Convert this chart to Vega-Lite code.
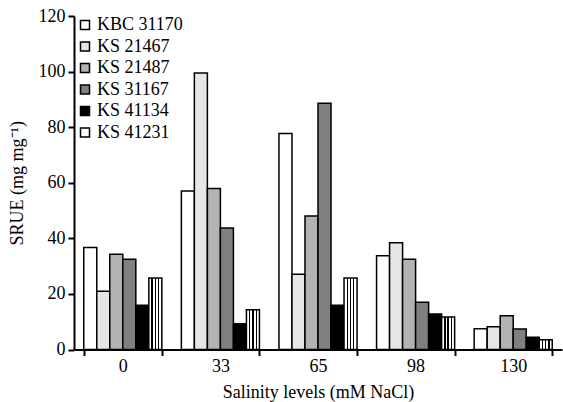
{
  "$schema": "https://vega.github.io/schema/vega-lite/v6.json",
  "width": 488,
  "height": 333.5,
  "autosize": {"type": "none"},
  "padding": {"left": 74, "top": 16, "right": 1, "bottom": 52.5},
  "config": {
    "font": "Liberation Serif",
    "view": {"stroke": null},
    "axis": {"domainColor": "black", "domainWidth": 2, "tickColor": "black", "tickWidth": 2, "tickSize": 6, "labelFontSize": 18, "titleFontSize": 18, "labelColor": "black", "titleColor": "black", "titleFontWeight": "normal", "grid": false, "labelFont": "Liberation Serif", "titleFont": "Liberation Serif"},
    "legend": {"labelFont": "Liberation Serif"}
  },
  "data": {
    "values": [
      {"salinity": "0", "series": "KBC 31170", "srue": 36.7},
      {"salinity": "0", "series": "KS 21467", "srue": 21.0},
      {"salinity": "0", "series": "KS 21487", "srue": 34.3},
      {"salinity": "0", "series": "KS 31167", "srue": 32.5},
      {"salinity": "0", "series": "KS 41134", "srue": 15.9},
      {"salinity": "0", "series": "KS 41231", "srue": 25.7},
      {"salinity": "33", "series": "KBC 31170", "srue": 57.0},
      {"salinity": "33", "series": "KS 21467", "srue": 99.5},
      {"salinity": "33", "series": "KS 21487", "srue": 57.9},
      {"salinity": "33", "series": "KS 31167", "srue": 43.7},
      {"salinity": "33", "series": "KS 41134", "srue": 9.3},
      {"salinity": "33", "series": "KS 41231", "srue": 14.3},
      {"salinity": "65", "series": "KBC 31170", "srue": 77.7},
      {"salinity": "65", "series": "KS 21467", "srue": 27.1},
      {"salinity": "65", "series": "KS 21487", "srue": 48.0},
      {"salinity": "65", "series": "KS 31167", "srue": 88.6},
      {"salinity": "65", "series": "KS 41134", "srue": 15.9},
      {"salinity": "65", "series": "KS 41231", "srue": 25.7},
      {"salinity": "98", "series": "KBC 31170", "srue": 33.7},
      {"salinity": "98", "series": "KS 21467", "srue": 38.4},
      {"salinity": "98", "series": "KS 21487", "srue": 32.5},
      {"salinity": "98", "series": "KS 31167", "srue": 17.0},
      {"salinity": "98", "series": "KS 41134", "srue": 12.8},
      {"salinity": "98", "series": "KS 41231", "srue": 11.7},
      {"salinity": "130", "series": "KBC 31170", "srue": 7.5},
      {"salinity": "130", "series": "KS 21467", "srue": 8.2},
      {"salinity": "130", "series": "KS 21487", "srue": 12.1},
      {"salinity": "130", "series": "KS 31167", "srue": 7.4},
      {"salinity": "130", "series": "KS 41134", "srue": 4.4},
      {"salinity": "130", "series": "KS 41231", "srue": 3.5}
    ]
  },
  "mark": {"type": "bar", "stroke": "black", "strokeWidth": 1.5},
  "encoding": {
    "x": {
      "field": "salinity", "type": "ordinal", "sort": ["0", "33", "65", "98", "130"],
      "scale": {"paddingInner": 0.2, "paddingOuter": 0.1},
      "axis": {"title": "Salinity levels (mM NaCl)", "labelAngle": 0, "tickBand": "extent", "labelPadding": 2, "titlePadding": 8}
    },
    "xOffset": {"field": "series", "type": "nominal", "sort": ["KBC 31170", "KS 21467", "KS 21487", "KS 31167", "KS 41134", "KS 41231"]},
    "y": {
      "field": "srue", "type": "quantitative",
      "scale": {"domain": [0, 120], "nice": false},
      "axis": {"title": "SRUE (mg mg⁻¹)", "values": [0, 20, 40, 60, 80, 100, 120], "labelPadding": 3, "titlePadding": 12}
    },
    "fill": {
      "condition": {
        "test": "datum.series === 'KS 41231'",
        "value": {"gradient": "linear", "x1": 0, "x2": 1, "y1": 0, "y2": 0, "stops": [
          {"offset": 0, "color": "white"}, {"offset": 0.2, "color": "white"},
          {"offset": 0.2, "color": "black"}, {"offset": 0.3, "color": "black"},
          {"offset": 0.3, "color": "white"}, {"offset": 0.45, "color": "white"},
          {"offset": 0.45, "color": "black"}, {"offset": 0.55, "color": "black"},
          {"offset": 0.55, "color": "white"}, {"offset": 0.7, "color": "white"},
          {"offset": 0.7, "color": "black"}, {"offset": 0.8, "color": "black"},
          {"offset": 0.8, "color": "white"}, {"offset": 1, "color": "white"}
        ]}
      },
      "field": "series", "type": "nominal",
      "sort": ["KBC 31170", "KS 21467", "KS 21487", "KS 31167", "KS 41134", "KS 41231"],
      "scale": {"domain": ["KBC 31170", "KS 21467", "KS 21487", "KS 31167", "KS 41134", "KS 41231"], "range": ["#ffffff", "#e6e6e6", "#b3b3b3", "#808080", "#000000", "#ffffff"]},
      "legend": {
        "title": null, "orient": "none", "legendX": 2, "legendY": 0, "padding": 0,
        "symbolType": "square", "symbolSize": 81, "symbolStrokeColor": "black", "symbolStrokeWidth": 1.5,
        "labelFontSize": 18, "labelFont": "Liberation Serif", "labelColor": "black", "labelOffset": 3, "rowPadding": 3.5,
        "labelLimit": 200
      }
    }
  }
}
